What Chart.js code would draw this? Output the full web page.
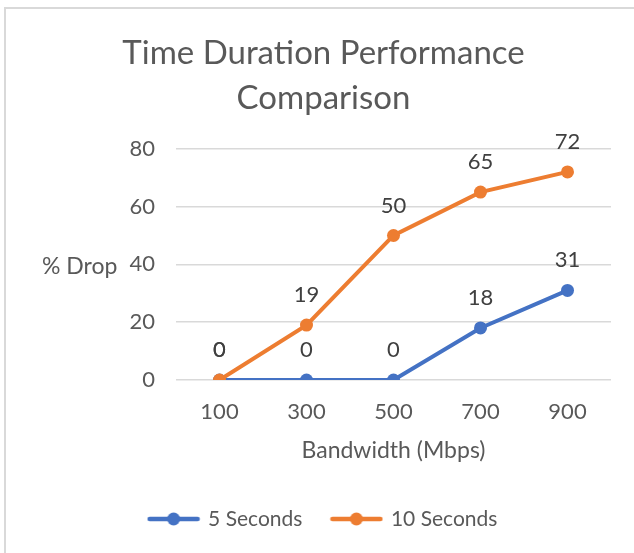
<!DOCTYPE html>
<html>
<head>
<meta charset="utf-8">
<script src="https://cdn.jsdelivr.net/npm/chart.js@4/dist/chart.umd.min.js"></script>
<style>
  html, body { margin: 0; padding: 0; background: #fff; }
  #wrap { position: relative; width: 634px; height: 553px; }
</style>
</head>
<body>
<div id="wrap"><canvas id="chart" width="634" height="553"></canvas></div>
<script>
// data
const bandwidths = ['100', '300', '500', '700', '900'];
const fiveSeconds = [0, 0, 0, 18, 31];
const tenSeconds = [0, 19, 50, 65, 72];
const yTicks = [0, 20, 40, 60, 80];

const blue = '#4472C4';
const orange = '#ED7D31';
const textGrey = '#595959';
const fontFamily = 'Lato, "Open Sans", sans-serif';

// little line-with-dot swatch for the legend, like Excel draws it
function legendSwatch(color) {
    const c = document.createElement('canvas');
    c.width = 54; c.height = 14;
    const g = c.getContext('2d');
    g.strokeStyle = color;
    g.lineWidth = 4.5;
    g.lineCap = 'round';
    g.beginPath(); g.moveTo(3, 7); g.lineTo(51, 7); g.stroke();
    g.fillStyle = color;
    g.beginPath(); g.arc(27, 7, 6.5, 0, Math.PI * 2); g.fill();
    return c;
}

// chart frame (only top and left edges show in the picture)
const framePlugin = {
    id: 'frame',
    beforeDraw(chart) {
        const ctx = chart.ctx;
        ctx.save();
        ctx.fillStyle = '#d9d9d9';
        ctx.fillRect(5, 7, chart.width - 5, 2);
        ctx.fillRect(4, 7, 2, chart.height - 7);
        ctx.restore();
    }
};

// horizontal "% Drop" axis title next to the value axis
const yTitlePlugin = {
    id: 'yTitle',
    afterDraw(chart) {
        const ctx = chart.ctx;
        const y = chart.scales.y.getPixelForValue(40);
        ctx.save();
        ctx.font = '23px ' + fontFamily;
        ctx.fillStyle = textGrey;
        ctx.textAlign = 'left';
        ctx.textBaseline = 'middle';
        ctx.fillText('% Drop', 42, y + 2);
        ctx.restore();
    }
};

// value labels above each point
const valueLabels = {
    id: 'valueLabels',
    afterDatasetsDraw(chart) {
        const ctx = chart.ctx;
        ctx.save();
        ctx.font = '22px ' + fontFamily;
        ctx.fillStyle = '#404040';
        ctx.textAlign = 'center';
        ctx.textBaseline = 'middle';
        chart.data.datasets.forEach((ds, i) => {
            chart.getDatasetMeta(i).data.forEach((pt, j) => {
                ctx.fillText(String(ds.data[j]), pt.x, pt.y - 30);
            });
        });
        ctx.restore();
    }
};

const ctx = document.getElementById('chart').getContext('2d');
new Chart(ctx, {
    type: 'line',
    data: {
        labels: bandwidths,
        datasets: [
            {
                label: '5 Seconds',
                data: fiveSeconds,
                borderColor: blue,
                backgroundColor: blue,
                borderWidth: 4,
                pointRadius: 6.5,
                pointBorderWidth: 0,
                order: 2
            },
            {
                label: '10 Seconds',
                data: tenSeconds,
                borderColor: orange,
                backgroundColor: orange,
                borderWidth: 4,
                pointRadius: 6.5,
                pointBorderWidth: 0,
                order: 1
            }
        ]
    },
    options: {
        responsive: false,
        animation: false,
        layout: { padding: { top: 0, right: 23, bottom: 13.5, left: 36 } },
        scales: {
            x: {
                offset: true,
                grid: { display: false, drawTicks: false },
                border: { display: false },
                ticks: {
                    color: textGrey,
                    font: { family: fontFamily, size: 22 },
                    padding: 19,
                    maxRotation: 0
                },
                title: {
                    display: true,
                    text: 'Bandwidth (Mbps)',
                    color: textGrey,
                    font: { family: fontFamily, size: 23 },
                    padding: { top: 11, bottom: 14.5 }
                },
                afterFit(scale) { scale.height = 98.5; }
            },
            y: {
                min: 0,
                max: 80,
                afterBuildTicks(scale) {
                    scale.ticks = yTicks.map(v => ({ value: v }));
                },
                grid: { color: '#d9d9d9', lineWidth: 1.5, drawTicks: false },
                border: { display: false },
                ticks: {
                    color: textGrey,
                    font: { family: fontFamily, size: 22 },
                    padding: 21
                },
                afterFit(scale) { scale.width = 140; }
            }
        },
        plugins: {
            title: {
                display: true,
                text: ['Time Duration Performance', 'Comparison'],
                color: textGrey,
                font: { family: fontFamily, size: 33, weight: 'normal', lineHeight: 1.36 },
                padding: { top: 31, bottom: 28 }
            },
            legend: {
                position: 'bottom',
                labels: {
                    color: textGrey,
                    font: { family: fontFamily, size: 21 },
                    usePointStyle: true,
                    pointStyleWidth: 48,
                    boxHeight: 14,
                    padding: 30,
                    sort: (a, b) => a.datasetIndex - b.datasetIndex,
                    generateLabels(chart) {
                        return chart.data.datasets.map((ds, i) => ({
                            text: ds.label,
                            fontColor: textGrey,
                            pointStyle: legendSwatch(ds.borderColor),
                            datasetIndex: i,
                            lineWidth: 0,
                            hidden: false
                        }));
                    }
                }
            },
            tooltip: { enabled: false }
        }
    },
    plugins: [framePlugin, yTitlePlugin, valueLabels]
});
</script>
</body>
</html>
